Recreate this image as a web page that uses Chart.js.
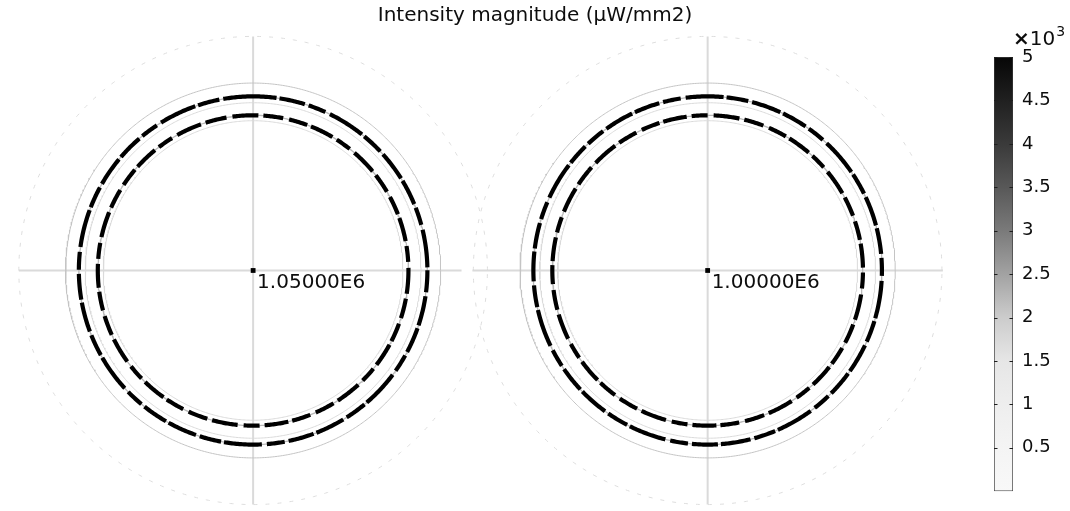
<!DOCTYPE html>
<html>
<head>
<meta charset="utf-8">
<title>Intensity magnitude</title>
<script src="https://cdn.jsdelivr.net/npm/chart.js@4.4.1/dist/chart.umd.min.js"></script>
<style>
  html, body { margin: 0; padding: 0; background: #ffffff; }
  #stage { position: relative; width: 1070px; height: 511px; overflow: hidden; }
  #field { position: absolute; left: 0; top: 0; display: block; }
  #scale { position: absolute; left: 960px; top: 0; display: block; }
</style>
</head>
<body>
<div id="stage">
  <canvas id="field" width="1070" height="511"></canvas>
  <canvas id="scale" width="110" height="511"></canvas>
</div>
<script>
const FONT = '"DejaVu Sans", Verdana, sans-serif';

// Parameter value of each solution panel
const sweepValues = ['1.05000E6', '1.00000E6'];
// Panel centres, in model units
const panelCenterX = [0, 2.423];
const panelCenterY = [0, 0];
// Radii, normalised to the cladding boundary circle
const boundaryRadius = 1.0;
const ringRadii = [0.929, 0.828];
const ringEdgeRadii = [0.895, 0.799];
const domainRadius = 1.249;
// Cut lines through each panel centre
const hLineFrom = [-1.249, -1.254];
const hLineTo = [1.111, 1.254];
const vLineHalf = [1.249, 1.249];
// Colour-bar range and tick values (x10^3 µW/mm2)
const colorRange = [0, 5];
const colorTicks = [0.5, 1, 1.5, 2, 2.5, 3, 3.5, 4, 4.5, 5];

// ---- layout / style constants ----
const PX_PER_UNIT = 189;
const CANVAS_W = 1070, CANVAS_H = 511, TITLE_H = 30;
const ORIGIN_X_PX = 251, ORIGIN_Y_PX = 272.5;
const X_MIN = -ORIGIN_X_PX / PX_PER_UNIT;
const X_MAX = (CANVAS_W - ORIGIN_X_PX) / PX_PER_UNIT;
const Y_MAX = (ORIGIN_Y_PX - TITLE_H) / PX_PER_UNIT;
const Y_MIN = -(CANVAS_H - ORIGIN_Y_PX) / PX_PER_UNIT;

// grey level of the colour table at each 0.5 step from 0 to 5
const grayTable = [248, 244, 238, 230, 204, 162, 122, 88, 58, 32, 6];
// broken-stroke patterns of the two bright rings
const ringDash = [
  [30, 4, 22, 3, 38, 5, 18, 4, 26, 3],
  [20, 5, 26, 6, 16, 5, 24, 4, 19, 6]
];
const ringDashOffset = [[0, 7], [11, 3]];

function circle(cx, cy, r, startDeg) {
  const pts = [];
  const n = 720;
  const a0 = (startDeg || 0) * Math.PI / 180;
  for (let i = 0; i <= n; i++) {
    const a = a0 + (i / n) * 2 * Math.PI;
    pts.push({ x: cx + r * Math.cos(a), y: cy + r * Math.sin(a) });
  }
  return pts;
}

function lineSet(data, color, width, order, dash, dashOffset) {
  return {
    data, showLine: true, borderColor: color, borderWidth: width,
    borderDash: dash || [], borderDashOffset: dashOffset || 0,
    pointRadius: 0, fill: false, order
  };
}

const datasets = [];
sweepValues.forEach((_, p) => {
  const cx = panelCenterX[p], cy = panelCenterY[p];
  // centre marker
  datasets.push({
    data: [{ x: cx, y: cy }], showLine: false, pointStyle: 'rect',
    pointRadius: 3.4, backgroundColor: '#000', borderColor: '#000', borderWidth: 0, order: 0
  });
  // high-intensity rings
  ringRadii.forEach((r, k) => {
    datasets.push(lineSet(circle(cx, cy, r, 90 + 37 * p + 13 * k), '#000', 4.2, 1,
      ringDash[k], ringDashOffset[p][k]));
    datasets.push(lineSet(circle(cx, cy, r), '#b8b8b8', 1.3, 2));
  });
  ringEdgeRadii.forEach(r => datasets.push(lineSet(circle(cx, cy, r), '#dadada', 1, 3)));
  // cladding boundary
  datasets.push(lineSet(circle(cx, cy, boundaryRadius), '#c4c4c4', 1, 4));
  // cut lines
  datasets.push(lineSet([{ x: cx + hLineFrom[p], y: cy }, { x: cx + hLineTo[p], y: cy }], '#dadada', 2, 5));
  datasets.push(lineSet([{ x: cx, y: cy + vLineHalf[p] }, { x: cx, y: cy - vLineHalf[p] }], '#dadada', 2, 5));
  // outer computational domain
  datasets.push(lineSet(circle(cx, cy, domainRadius), '#dddddd', 1, 6, [4, 8]));
});

const panelLabels = {
  id: 'panelLabels',
  afterDatasetsDraw(chart) {
    const { ctx, scales: { x, y } } = chart;
    ctx.save();
    ctx.fillStyle = '#0d0d0d';
    ctx.font = '20px ' + FONT;
    ctx.textAlign = 'left';
    ctx.textBaseline = 'alphabetic';
    sweepValues.forEach((label, p) => {
      const px = x.getPixelForValue(panelCenterX[p]);
      const py = y.getPixelForValue(panelCenterY[p]);
      ctx.fillText(label, px + 4, py + 17.5);
    });
    ctx.restore();
  }
};

new Chart(document.getElementById('field'), {
  type: 'scatter',
  data: { datasets },
  options: {
    responsive: false, animation: false, devicePixelRatio: 1, events: [],
    layout: { padding: 0 },
    plugins: {
      legend: { display: false },
      tooltip: { enabled: false },
      title: {
        display: true, text: 'Intensity magnitude (μW/mm2)', color: '#0d0d0d',
        font: { family: FONT, size: 20, weight: 'normal', lineHeight: 1.2 },
        padding: { top: 4, bottom: 2 }
      }
    },
    scales: {
      x: { type: 'linear', display: false, min: X_MIN, max: X_MAX },
      y: { type: 'linear', display: false, min: Y_MIN, max: Y_MAX }
    },
    elements: { line: { tension: 0 } }
  },
  plugins: [panelLabels]
});

// ---- colour bar ----
const colorBarMarks = {
  id: 'colorBarMarks',
  afterDatasetsDraw(chart) {
    const { ctx, chartArea: a, scales: { y } } = chart;
    ctx.save();
    ctx.strokeStyle = '#1e1e1e';
    ctx.lineWidth = 1;
    ctx.beginPath();
    colorTicks.forEach(v => {
      const py = Math.round(y.getPixelForValue(v)) + 0.5;
      ctx.moveTo(a.left, py); ctx.lineTo(a.left + 3.5, py);
      ctx.moveTo(a.right - 3.5, py); ctx.lineTo(a.right, py);
    });
    ctx.stroke();
    // exponent header
    ctx.fillStyle = '#0d0d0d';
    ctx.textAlign = 'left';
    ctx.textBaseline = 'alphabetic';
    ctx.font = 'bold 20px ' + FONT;
    ctx.fillText('×', a.right, 45);
    const wx = ctx.measureText('×').width;
    ctx.font = '20px ' + FONT;
    ctx.fillText('10', a.right + wx, 45);
    const w10 = ctx.measureText('10').width;
    ctx.font = '14px ' + FONT;
    ctx.fillText('3', a.right + wx + w10 + 1, 36);
    ctx.restore();
  }
};

new Chart(document.getElementById('scale'), {
  type: 'bar',
  data: {
    labels: [''],
    datasets: [{
      data: [colorRange],
      backgroundColor(c) {
        const area = c.chart.chartArea;
        if (!area) return '#999';
        const g = c.chart.ctx.createLinearGradient(0, area.bottom, 0, area.top);
        grayTable.forEach((v, i) => g.addColorStop(i / (grayTable.length - 1), `rgb(${v},${v},${v})`));
        return g;
      },
      borderColor: '#3a3a3a', borderWidth: 1, borderSkipped: false,
      categoryPercentage: 1, barPercentage: 1
    }]
  },
  options: {
    responsive: false, animation: false, devicePixelRatio: 1, events: [],
    layout: { padding: { left: 34, right: 0, top: 57, bottom: 18 } },
    plugins: { legend: { display: false }, tooltip: { enabled: false } },
    scales: {
      x: { display: false },
      y: {
        position: 'right', min: colorRange[0], max: colorRange[1],
        afterBuildTicks(s) { s.ticks = colorTicks.map(v => ({ value: v })); },
        afterFit(s) { s.width = 57; },
        grid: { display: false, drawTicks: false, tickLength: 0 },
        border: { display: false },
        ticks: { padding: 9, color: '#0d0d0d', font: { family: FONT, size: 18 }, callback: v => String(v) }
      }
    }
  },
  plugins: [colorBarMarks]
});
</script>
</body>
</html>
